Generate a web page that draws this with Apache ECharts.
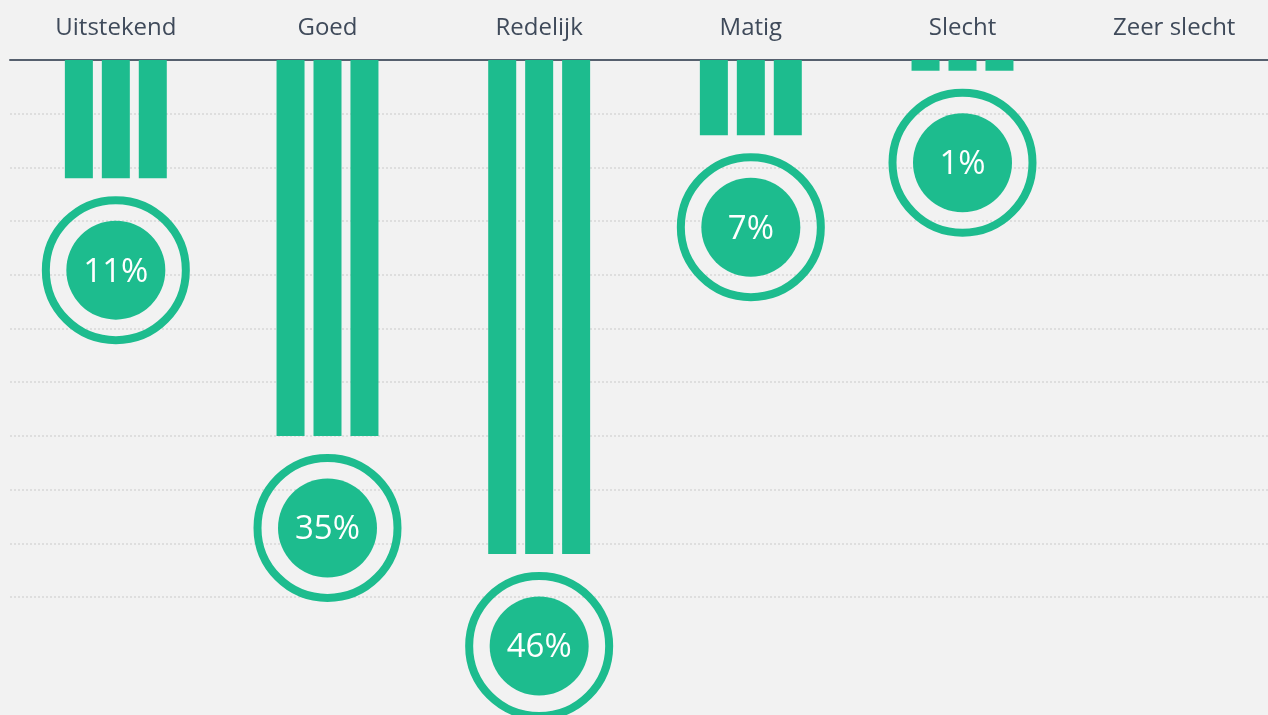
<!DOCTYPE html>
<html>
<head>
<meta charset="utf-8">
<style>
  html, body { margin: 0; padding: 0; background: #f2f2f2; overflow: hidden; }
  #chart { width: 1280px; height: 715px; }
</style>
<script src="https://cdn.jsdelivr.net/npm/echarts@6/dist/echarts.min.js"></script>
</head>
<body>
<div id="chart"></div>
<script>
// Beoordeling: aandeel per antwoordcategorie (%)
const categories = ['Uitstekend', 'Goed', 'Redelijk', 'Matig', 'Slecht', 'Zeer slecht'];
const shares = [11, 35, 46, 7, 1, 0];

const GREEN = '#1dbc8e';
const TEXT = '#3f4a5a';

const chart = echarts.init(document.getElementById('chart'));

// three identical bars per category, hanging from the top axis
const barSeries = [0, 1, 2].map(() => ({
  type: 'bar',
  data: shares,
  barWidth: 28,
  barGap: '32%',
  itemStyle: { color: GREEN },
  silent: true,
  z: 2
}));

// badge under each bar: ring + filled disc with the percentage
const badgeData = shares
  .map((v, i) => [i, v])
  .filter(d => d[1] > 0);

const badgeSeries = {
  type: 'custom',
  data: badgeData,
  clip: false,
  z: 3,
  renderItem: function (params, api) {
    const idx = api.value(0);
    const val = api.value(1);
    const p = api.coord([idx, val]);
    const cx = p[0];
    const cy = p[1] + 92;
    return {
      type: 'group',
      children: [
        {
          type: 'circle',
          shape: { cx: cx, cy: cy, r: 70 },
          style: { fill: 'none', stroke: GREEN, lineWidth: 8 }
        },
        {
          type: 'circle',
          shape: { cx: cx, cy: cy, r: 49.5 },
          style: { fill: GREEN }
        },
        {
          type: 'text',
          x: cx,
          y: cy + 2,
          style: {
            text: val + '%',
            fill: '#ffffff',
            font: 'normal 33px "Open Sans"',
            align: 'center',
            verticalAlign: 'middle'
          }
        }
      ]
    };
  }
};

chart.setOption({
  backgroundColor: '#f2f2f2',
  animation: false,
  grid: { left: 10, top: 60, right: 0, height: 537, containLabel: false },
  xAxis: {
    type: 'category',
    position: 'top',
    data: categories,
    boundaryGap: true,
    axisLine: { show: true, lineStyle: { color: '#56606e', width: 2 } },
    axisTick: { show: false },
    axisLabel: {
      color: TEXT,
      fontFamily: 'Open Sans',
      fontSize: 24,
      margin: 20
    },
    splitLine: { show: false }
  },
  yAxis: {
    type: 'value',
    inverse: true,
    min: 0,
    max: 50,
    interval: 5,
    axisLine: { show: false },
    axisTick: { show: false },
    axisLabel: { show: false },
    splitLine: {
      show: true,
      lineStyle: { color: '#dedede', type: 'dotted', width: 2 }
    }
  },
  series: barSeries.concat([badgeSeries])
});
</script>
</body>
</html>
